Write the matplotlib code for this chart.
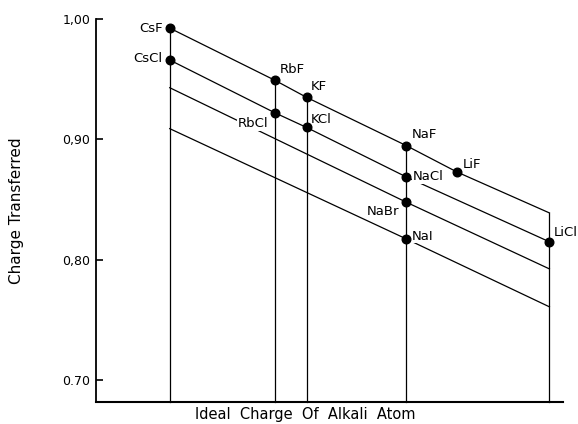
import matplotlib
matplotlib.use("Agg")
import matplotlib.pyplot as plt

# ---- data -------------------------------------------------------------
# positions of the alkali atoms along the ideal-charge axis (arbitrary units)
alkali = ["Cs", "Rb", "K", "Na", "Li"]
ideal_charge = [0.158, 0.384, 0.451, 0.664, 0.971]
lif_charge = 0.773  # LiF sits on the fluoride line, off the Li vertical

# charge transferred along each halide line (x, y)
fluoride_x = [0.158, 0.384, 0.451, 0.664, 0.773, 0.971]
fluoride_y = [0.9925, 0.949, 0.935, 0.895, 0.873, 0.839]
chloride_x = [0.158, 0.384, 0.451, 0.664, 0.971]
chloride_y = [0.966, 0.922, 0.910, 0.869, 0.815]
bromide_x = [0.158, 0.664, 0.971]
bromide_y = [0.943, 0.848, 0.7925]
iodide_x = [0.158, 0.664, 0.971]
iodide_y = [0.909, 0.8175, 0.761]

# labelled compounds
compounds = ["CsF", "CsCl", "RbF", "RbCl", "KF", "KCl", "NaF", "NaCl",
             "LiF", "NaBr", "NaI", "LiCl"]
comp_x = [0.158, 0.158, 0.384, 0.384, 0.451, 0.451, 0.664, 0.664,
          0.773, 0.664, 0.664, 0.971]
comp_y = [0.9925, 0.966, 0.949, 0.922, 0.935, 0.910, 0.895, 0.869,
          0.873, 0.848, 0.8175, 0.815]

# top of each vertical line (where it meets the fluoride line)
vert_top = [0.9925, 0.949, 0.935, 0.895, 0.839]

y_ticks = [0.70, 0.80, 0.90, 1.00]
y_tick_labels = ["0.70", "0,80", "0,90", "1,00"]
y_bottom = 0.682

# label placement: (dx, dy) offsets in points, alignment
label_pos = {
    "CsF": (-5, 0, "right", "center"),
    "CsCl": (-5, 1, "right", "center"),
    "RbF": (3, 3, "left", "bottom"),
    "RbCl": (-5, -3, "right", "top"),
    "KF": (3, 3, "left", "bottom"),
    "KCl": (3, 1, "left", "bottom"),
    "NaF": (4, 3, "left", "bottom"),
    "NaCl": (5, 0, "left", "center"),
    "LiF": (4, 1, "left", "bottom"),
    "NaBr": (-5, -2, "right", "top"),
    "NaI": (4, 2, "left", "center"),
    "LiCl": (3, 2, "left", "bottom"),
}

# ---- plot -------------------------------------------------------------
plt.rcParams["font.family"] = ["DejaVu Sans"]

fig = plt.figure(figsize=(5.78, 4.24), dpi=100)
ax = fig.add_axes([0.166, 0.052, 0.808, 0.903])

lw = 0.9
for xs, ys in [(fluoride_x, fluoride_y), (chloride_x, chloride_y),
               (bromide_x, bromide_y), (iodide_x, iodide_y)]:
    ax.plot(xs, ys, color="black", lw=lw, zorder=2, clip_on=False)

for x, top in zip(ideal_charge, vert_top):
    ax.plot([x, x], [y_bottom, top], color="black", lw=lw, zorder=2,
            clip_on=False)

ax.plot(comp_x, comp_y, "o", color="black", ms=6.2, zorder=4, clip_on=False)

for name, x, y in zip(compounds, comp_x, comp_y):
    dx, dy, ha, va = label_pos[name]
    ax.annotate(name, (x, y), xytext=(dx, dy), textcoords="offset points",
                ha=ha, va=va, fontsize=9.5, zorder=3,
                bbox=dict(facecolor="white", edgecolor="none", pad=0.5))

ax.set_xlim(0, 1)
ax.set_ylim(y_bottom, 1.0)
ax.set_xticks([])
ax.set_yticks(y_ticks)
ax.set_yticklabels(y_tick_labels, fontsize=9)
ax.tick_params(axis="y", direction="in", length=5, width=1.2, pad=4)

ax.spines["top"].set_visible(False)
ax.spines["right"].set_visible(False)
ax.spines["left"].set_linewidth(1.3)
ax.spines["bottom"].set_linewidth(1.5)

ax.set_ylabel("Charge Transferred", fontsize=11)
ax.yaxis.set_label_coords(-0.155, 0.5, transform=ax.transAxes)
ax.set_xlabel("Ideal  Charge  Of  Alkali  Atom", fontsize=10.5)
ax.xaxis.set_label_coords(0.448, -0.012, transform=ax.transAxes)
ax.xaxis.label.set_va("top")

fig.savefig("out.png", dpi=100)
